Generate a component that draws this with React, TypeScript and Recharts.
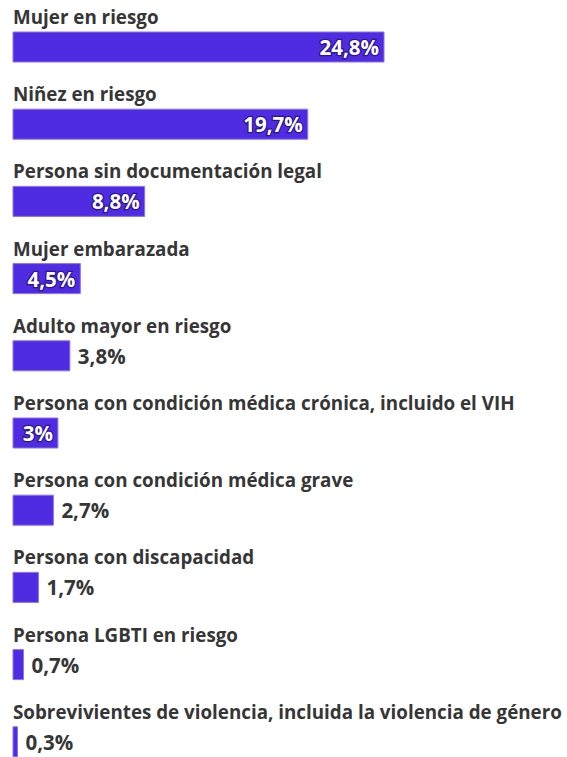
import { Bar, BarChart, LabelList, XAxis, YAxis } from "recharts";

const categories = [
  "Mujer en riesgo",
  "Niñez en riesgo",
  "Persona sin documentación legal",
  "Mujer embarazada",
  "Adulto mayor en riesgo",
  "Persona con condición médica crónica, incluido el VIH",
  "Persona con condición médica grave",
  "Persona con discapacidad",
  "Persona LGBTI en riesgo",
  "Sobrevivientes de violencia, incluida la violencia de género",
];

const values = [24.8, 19.7, 8.8, 4.5, 3.8, 3, 2.7, 1.7, 0.7, 0.3];

const data = categories.map((name, i) => ({ name, value: values[i] }));

const FONT = "'Open Sans', 'Noto Sans', sans-serif";
const BAR = "#4f2be2";
const TEXT = "#363636";

const fmt = (v: number) => String(v).replace(".", ",") + "%";

// rough width of a label, in px
const textWidth = (s: string) =>
  s.split("").reduce((w, c) => w + (c === "," ? 5 : c === "%" ? 15 : 10), 0);

const NameLabel = (props: any) => {
  const { x, y, value } = props;
  return (
    <text
      x={x}
      y={y - 8}
      fill={TEXT}
      fontFamily={FONT}
      fontWeight={700}
      fontSize={18.8}
    >
      {value}
    </text>
  );
};

const ValueLabel = (props: any) => {
  const { x, y, width, height, value } = props;
  const s = fmt(value);
  const inside = textWidth(s) + 18 <= width;
  return (
    <text
      x={inside ? x + width - 5 : x + width + 8}
      y={y + height / 2}
      textAnchor={inside ? "end" : "start"}
      dominantBaseline="central"
      fill={inside ? "#fff" : TEXT}
      stroke={inside ? "#2c1590" : "none"}
      strokeWidth={inside ? 2.5 : 0}
      paintOrder="stroke"
      fontFamily={FONT}
      fontWeight={700}
      fontSize={20.5}
    >
      {s}
    </text>
  );
};

export default function App() {
  return (
    <div style={{ position: "absolute", left: 0, top: 0, background: "#fff" }}>
      <BarChart
        width={567}
        height={790}
        data={data}
        layout="vertical"
        margin={{ top: 8, right: 183, bottom: 10, left: 13 }}
        barCategoryGap={0}
      >
        <XAxis type="number" domain={[0, "dataMax"]} hide />
        <YAxis type="category" dataKey="name" hide />
        <Bar
          dataKey="value"
          fill={BAR}
          stroke="#8b73f2"
          strokeWidth={1}
          barSize={30}
          isAnimationActive={false}
        >
          <LabelList dataKey="name" content={NameLabel} />
          <LabelList dataKey="value" content={ValueLabel} />
        </Bar>
      </BarChart>
    </div>
  );
}
